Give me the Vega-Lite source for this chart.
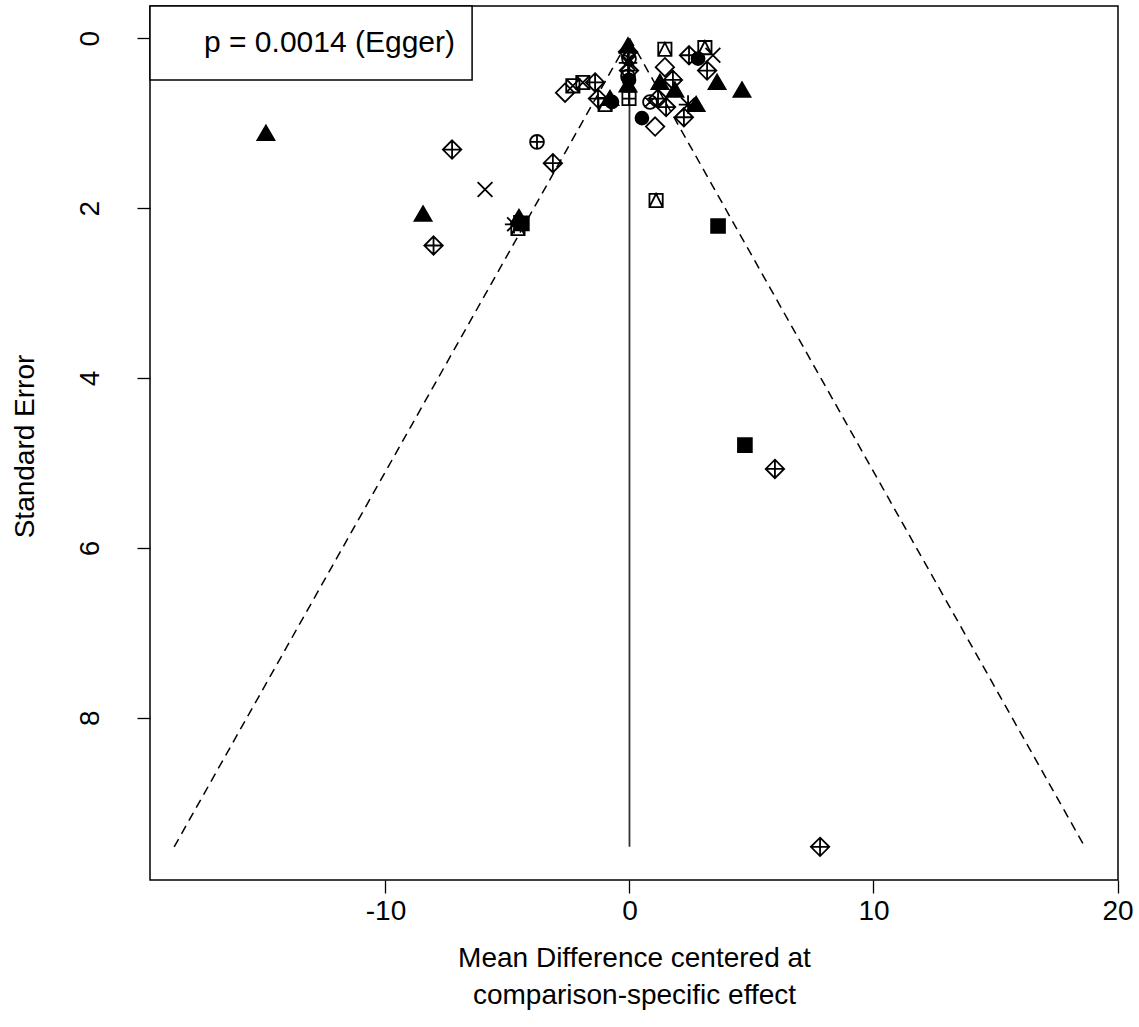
{
  "$schema": "https://vega.github.io/schema/vega-lite/v6.json",
  "width": 968,
  "height": 874,
  "autosize": {"type": "none"},
  "padding": {"left": 150, "top": 6, "right": 21, "bottom": 147},
  "background": "white",
  "config": {
    "font": "Liberation Sans",
    "view": {"stroke": "black", "strokeWidth": 1.5},
    "axis": {
      "grid": false,
      "domain": false,
      "tickColor": "black",
      "tickWidth": 1.3,
      "tickSize": 13,
      "labelFlush": false,
      "labelOverlap": false,
      "labelColor": "black",
      "labelFontSize": 28,
      "labelFont": "Liberation Sans",
      "titleFont": "Liberation Sans",
      "titleFontSize": 28,
      "titleFontWeight": "normal",
      "titleColor": "black"
    }
  },
  "datasets": {
    "studies": [
      {"md": -14.90, "se": 1.12, "symbol": "tri_f"},
      {"md": -7.27, "se": 1.31, "symbol": "diamond_plus"},
      {"md": -5.92, "se": 1.78, "symbol": "cross_x"},
      {"md": -8.46, "se": 2.07, "symbol": "tri_f"},
      {"md": -8.03, "se": 2.44, "symbol": "diamond_plus"},
      {"md": -3.79, "se": 1.22, "symbol": "circle_plus"},
      {"md": -3.14, "se": 1.47, "symbol": "diamond_plus"},
      {"md": -4.57, "se": 2.24, "symbol": "square_tri"},
      {"md": -4.73, "se": 2.19, "symbol": "asterisk"},
      {"md": -4.53, "se": 2.11, "symbol": "tri_f"},
      {"md": -4.41, "se": 2.18, "symbol": "square_f"},
      {"md": 1.09, "se": 1.91, "symbol": "square_tri"},
      {"md": 3.63, "se": 2.21, "symbol": "square_f"},
      {"md": 4.73, "se": 4.79, "symbol": "square_f"},
      {"md": 5.96, "se": 5.07, "symbol": "diamond_plus"},
      {"md": 7.81, "se": 9.52, "symbol": "diamond_plus"},
      {"md": -0.06, "se": 0.09, "symbol": "tri_f"},
      {"md": -0.06, "se": 0.16, "symbol": "diamond_plus"},
      {"md": -0.02, "se": 0.24, "symbol": "circle_x"},
      {"md": -0.06, "se": 0.29, "symbol": "asterisk"},
      {"md": -0.02, "se": 0.38, "symbol": "diamond_plus"},
      {"md": -0.06, "se": 0.45, "symbol": "circle_plus"},
      {"md": -0.02, "se": 0.49, "symbol": "circle_f"},
      {"md": -0.06, "se": 0.55, "symbol": "tri_f"},
      {"md": -0.02, "se": 0.71, "symbol": "square_plus"},
      {"md": 1.45, "se": 0.13, "symbol": "square_tri"},
      {"md": 1.45, "se": 0.34, "symbol": "diamond"},
      {"md": 1.25, "se": 0.52, "symbol": "tri_f"},
      {"md": 1.78, "se": 0.49, "symbol": "diamond_plus"},
      {"md": 1.86, "se": 0.61, "symbol": "tri_f"},
      {"md": 2.44, "se": 0.20, "symbol": "diamond_plus"},
      {"md": 2.81, "se": 0.24, "symbol": "circle_f"},
      {"md": 3.09, "se": 0.11, "symbol": "square_tri"},
      {"md": 3.42, "se": 0.20, "symbol": "cross_x"},
      {"md": 3.18, "se": 0.38, "symbol": "diamond_plus"},
      {"md": 3.59, "se": 0.52, "symbol": "tri_f"},
      {"md": 4.61, "se": 0.61, "symbol": "tri_f"},
      {"md": -2.64, "se": 0.64, "symbol": "diamond"},
      {"md": -2.32, "se": 0.56, "symbol": "square_x"},
      {"md": -1.91, "se": 0.52, "symbol": "square_x"},
      {"md": -1.41, "se": 0.52, "symbol": "diamond_plus"},
      {"md": -1.29, "se": 0.71, "symbol": "diamond_plus"},
      {"md": -1.00, "se": 0.78, "symbol": "square_tri"},
      {"md": -0.72, "se": 0.75, "symbol": "circle_f"},
      {"md": -0.80, "se": 0.71, "symbol": "tri_f"},
      {"md": 0.84, "se": 0.75, "symbol": "circle_x"},
      {"md": 1.17, "se": 0.71, "symbol": "diamond_plus"},
      {"md": 1.50, "se": 0.81, "symbol": "diamond_plus"},
      {"md": 0.51, "se": 0.94, "symbol": "circle_f"},
      {"md": 1.05, "se": 1.04, "symbol": "diamond"},
      {"md": 2.40, "se": 0.78, "symbol": "asterisk"},
      {"md": 2.23, "se": 0.93, "symbol": "diamond_plus"},
      {"md": 2.73, "se": 0.78, "symbol": "tri_f"}
    ],
    "funnel": [
      {"side": "left", "md": 0, "se": 0},
      {"side": "left", "md": -18.66, "se": 9.52},
      {"side": "right", "md": 0, "se": 0},
      {"side": "right", "md": 18.66, "se": 9.52}
    ],
    "centre": [{"md": 0, "se": 0, "se2": 9.52}],
    "egger": [{"x": -19.65, "x2": -6.45, "y": -0.38, "y2": 0.49, "tx": -7.15, "ty": 0.06, "label": "p = 0.0014 (Egger)"}]
  },
  "layer": [
    {
      "data": {"name": "funnel"},
      "mark": {"type": "line", "color": "black", "strokeWidth": 1.5, "strokeDash": [9, 6]},
      "encoding": {
        "x": {"field": "md", "type": "quantitative", "scale": {"domain": [-19.65, 20.02], "nice": false, "zero": false},
              "axis": {"values": [-10, 0, 10, 20], "labelExpr": "datum.value + ''", "labelPadding": 4,
                       "title": ["Mean Difference centered at", "comparison-specific effect"],
                       "titleLineHeight": 37, "titleBaseline": "middle", "titleY": 78}},
        "y": {"field": "se", "type": "quantitative", "scale": {"domain": [-0.38, 9.91], "nice": false, "zero": false, "reverse": true},
              "axis": {"values": [0, 2, 4, 6, 8], "labelExpr": "datum.value + ''", "labelAngle": -90, "labelAlign": "center", "labelBaseline": "bottom", "labelPadding": 33,
                       "title": "Standard Error", "titleX": -125, "titleY": 440, "titleAlign": "center", "titleBaseline": "middle", "titleAngle": -90}},
        "detail": {"field": "side"}
      }
    },
    {
      "data": {"name": "centre"},
      "mark": {"type": "rule", "color": "#333333", "strokeWidth": 1.8},
      "encoding": {
        "x": {"field": "md", "type": "quantitative"},
        "y": {"field": "se", "type": "quantitative"},
        "y2": {"field": "se2"}
      }
    },
    {
      "data": {"name": "studies"},
      "mark": {"type": "point", "stroke": "black", "strokeWidth": 1.8, "opacity": 1, "size": 340},
      "encoding": {
        "x": {"field": "md", "type": "quantitative"},
        "y": {"field": "se", "type": "quantitative"},
        "shape": {"field": "symbol", "type": "nominal", "legend": null,
          "scale": {
            "domain": ["tri_f", "diamond_plus", "square_plus", "circle_f", "cross_x", "asterisk", "diamond", "square_tri", "circle_plus", "circle_x", "square_f", "square_x"],
            "range": [
              "M0,-0.85L0.92,0.72L-0.92,0.72Z",
              "M0,-1L1,0L0,1L-1,0Z M0,-1L0,1 M-1,0L1,0",
              "M-0.72,-0.72H0.72V0.72H-0.72Z M0,-0.72V0.72 M-0.72,0H0.72",
              "M0.7,0A0.7,0.7 0 1,1 -0.7,0A0.7,0.7 0 1,1 0.7,0Z",
              "M-0.8,-0.8L0.8,0.8 M-0.8,0.8L0.8,-0.8",
              "M-0.75,-0.75L0.75,0.75 M-0.75,0.75L0.75,-0.75 M0,-1L0,1 M-1,0L1,0",
              "M0,-1L1,0L0,1L-1,0Z",
              "M-0.72,-0.72H0.72V0.72H-0.72Z M-0.72,0.72L0,-0.72L0.72,0.72",
              "M0.75,0A0.75,0.75 0 1,1 -0.75,0A0.75,0.75 0 1,1 0.75,0Z M0,-0.75L0,0.75 M-0.75,0L0.75,0",
              "M0.75,0A0.75,0.75 0 1,1 -0.75,0A0.75,0.75 0 1,1 0.75,0Z M-0.53,-0.53L0.53,0.53 M-0.53,0.53L0.53,-0.53",
              "M-0.75,-0.75H0.75V0.75H-0.75Z",
              "M-0.72,-0.72H0.72V0.72H-0.72Z M-0.72,-0.72L0.72,0.72 M-0.72,0.72L0.72,-0.72"
            ]
          }},
        "fill": {"field": "symbol", "type": "nominal", "legend": null,
          "scale": {
            "domain": ["tri_f", "diamond_plus", "square_plus", "circle_f", "cross_x", "asterisk", "diamond", "square_tri", "circle_plus", "circle_x", "square_f", "square_x"],
            "range": ["black", "transparent", "transparent", "black", "transparent", "transparent", "transparent", "transparent", "transparent", "transparent", "black", "transparent"]
          }}
      }
    },
    {
      "data": {"name": "egger"},
      "mark": {"type": "rect", "fill": "white", "stroke": "black", "strokeWidth": 1.5},
      "encoding": {
        "x": {"field": "x", "type": "quantitative"},
        "x2": {"field": "x2"},
        "y": {"field": "y", "type": "quantitative"},
        "y2": {"field": "y2"}
      }
    },
    {
      "data": {"name": "egger"},
      "mark": {"type": "text", "align": "right", "baseline": "middle", "fontSize": 30, "font": "Liberation Sans", "color": "black"},
      "encoding": {
        "x": {"field": "tx", "type": "quantitative"},
        "y": {"field": "ty", "type": "quantitative"},
        "text": {"field": "label"}
      }
    }
  ]
}
